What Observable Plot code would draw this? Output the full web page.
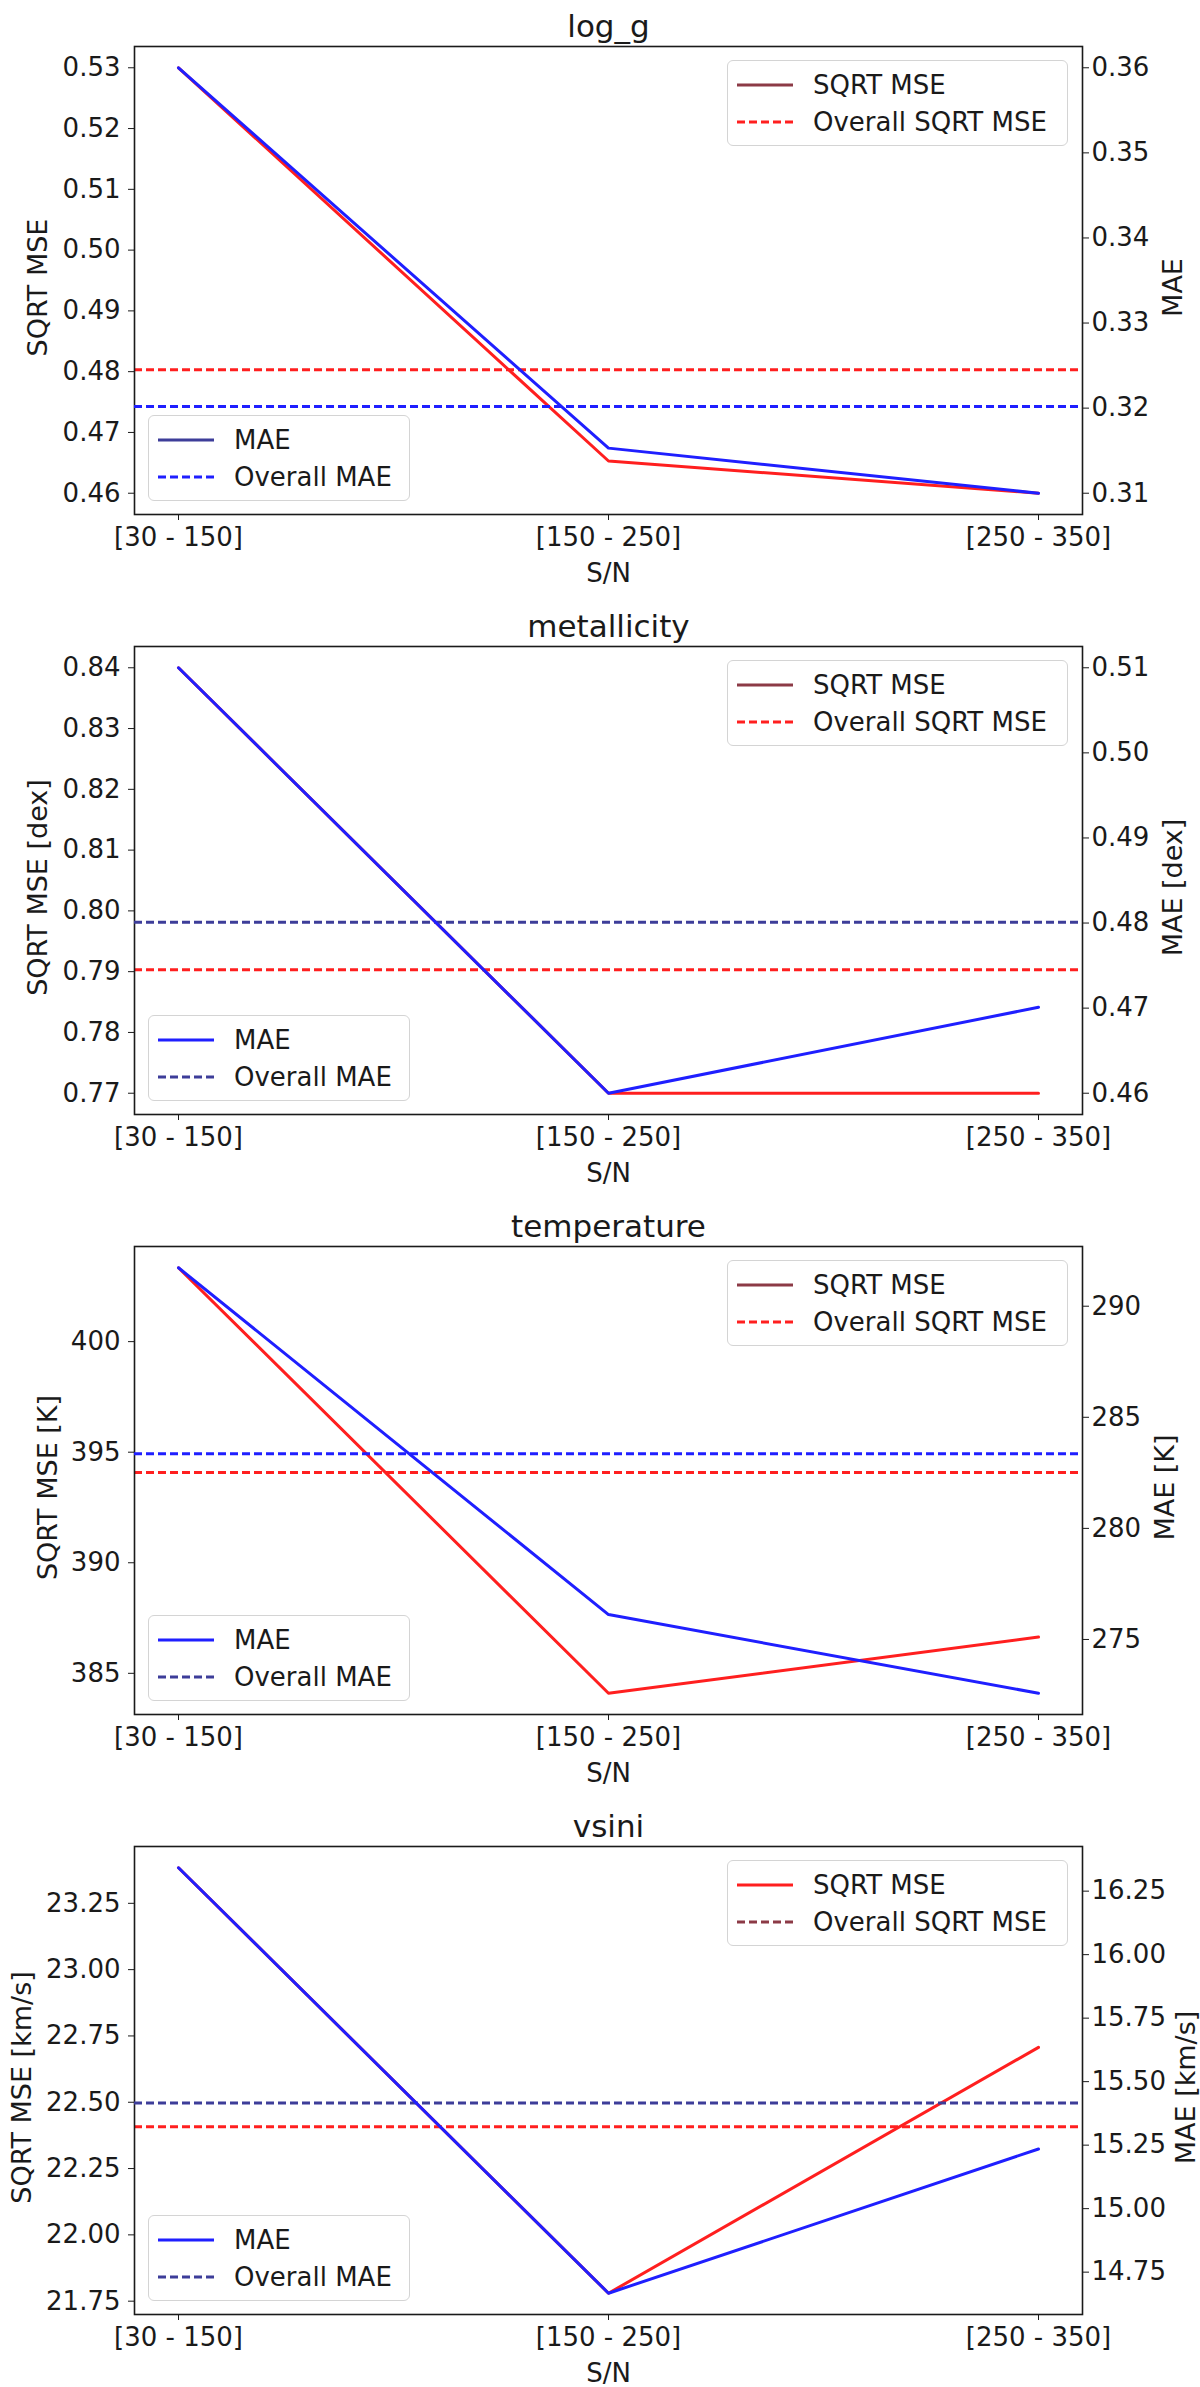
<!DOCTYPE html>
<html>
<head>
<meta charset="utf-8">
<script src="https://cdn.jsdelivr.net/npm/d3@7"></script>
<script src="https://cdn.jsdelivr.net/npm/@observablehq/plot@0.6"></script>
<style>
  html, body { margin: 0; padding: 0; background: white; overflow: hidden; }
  .panel { position: relative; width: 1200px; height: 600px; overflow: hidden; }
  .panel svg { position: absolute; left: 0; top: 0; }
  .legend {
    position: absolute; box-sizing: border-box; height: 86px;
    border: 1px solid #d4d4d4; border-radius: 6px; background: rgba(255,255,255,0.85);
    font-family: "DejaVu Sans", sans-serif; font-size: 26px; color: #1a1a1a; z-index: 5;
  }
  .legend .row { display: flex; align-items: center; height: 37px; }
  .legend .row:first-child { margin-top: 5px; }
  .legend svg { position: static; margin-left: 9px; margin-right: 20px; }
</style>
</head>
<body>
<div id="chart"></div>
<script>
// S/N bins on the x axis
const snBins = ["[30 - 150]", "[150 - 250]", "[250 - 350]"];

// log_g
const loggMse = [0.530, 0.4653, 0.460];
const loggMseOverall = 0.4803;
const loggMae = [0.360, 0.3153, 0.310];
const loggMaeOverall = 0.3202;
const loggMseTicks = [0.46, 0.47, 0.48, 0.49, 0.50, 0.51, 0.52, 0.53];
const loggMaeTicks = [0.31, 0.32, 0.33, 0.34, 0.35, 0.36];

// metallicity
const metMse = [0.840, 0.770, 0.770];
const metMseOverall = 0.7903;
const metMae = [0.510, 0.460, 0.4701];
const metMaeOverall = 0.4801;
const metMseTicks = [0.77, 0.78, 0.79, 0.80, 0.81, 0.82, 0.83, 0.84];
const metMaeTicks = [0.46, 0.47, 0.48, 0.49, 0.50, 0.51];

// temperature
const tempMse = [403.34, 384.10, 386.64];
const tempMseOverall = 394.08;
const tempMae = [291.73, 276.12, 272.58];
const tempMaeOverall = 283.36;
const tempMseTicks = [385, 390, 395, 400];
const tempMaeTicks = [275, 280, 285, 290];

// vsini
const vsiniMse = [23.384, 21.780, 22.707];
const vsiniMseOverall = 22.408;
const vsiniMae = [16.342, 14.667, 15.235];
const vsiniMaeOverall = 15.416;
const vsiniMseTicks = [21.75, 22.00, 22.25, 22.50, 22.75, 23.00, 23.25];
const vsiniMaeTicks = [14.75, 15.00, 15.25, 15.50, 15.75, 16.00, 16.25];

const red = "#ff1f1f", blue = "#1f1fff", darkRed = "#8c3a46", navy = "#3d3d99";

const panels = [
  {name: "log_g", unit: "", mse: loggMse, mseAll: loggMseOverall, mae: loggMae, maeAll: loggMaeOverall,
   mseTicks: loggMseTicks, maeTicks: loggMaeTicks, fmt: ".2f", leftDx: -96, rightDx: 91,
   keys: [darkRed, red, navy, blue], maeAllLine: blue},
  {name: "metallicity", unit: " [dex]", mse: metMse, mseAll: metMseOverall, mae: metMae, maeAll: metMaeOverall,
   mseTicks: metMseTicks, maeTicks: metMaeTicks, fmt: ".2f", leftDx: -96, rightDx: 91,
   keys: [darkRed, red, blue, navy], maeAllLine: navy},
  {name: "temperature", unit: " [K]", mse: tempMse, mseAll: tempMseOverall, mae: tempMae, maeAll: tempMaeOverall,
   mseTicks: tempMseTicks, maeTicks: tempMaeTicks, fmt: "d", leftDx: -86, rightDx: 83,
   keys: [darkRed, red, blue, navy], maeAllLine: blue},
  {name: "vsini", unit: " [km/s]", mse: vsiniMse, mseAll: vsiniMseOverall, mae: vsiniMae, maeAll: vsiniMaeOverall,
   mseTicks: vsiniMseTicks, maeTicks: vsiniMaeTicks, fmt: ".2f", leftDx: -112, rightDx: 104,
   keys: [red, darkRed, blue, navy], maeAllLine: navy}
];

const W = 1200, H = 600, mt = 46, mb = 86, ml = 134, mr = 118;
const dash = "8,4";

function rows(vals) {
  return snBins.map((bin, i) => ({bin, value: vals[i]}));
}
// matplotlib-like 5% margins
function padded(vals, overall) {
  const [lo, hi] = d3.extent([...vals, overall]);
  const pad = (hi - lo) * 0.05;
  return [lo - pad, hi + pad];
}

function legendBox(items, left, top, width) {
  const box = document.createElement("div");
  box.className = "legend";
  box.style.left = left + "px";
  box.style.top = top + "px";
  box.style.width = width + "px";
  for (const it of items) {
    const row = document.createElement("div");
    row.className = "row";
    row.innerHTML = `<svg width="56" height="6"><line x1="0" x2="56" y1="3" y2="3" stroke="${it.color}" stroke-width="3" ${it.dashed ? `stroke-dasharray="${dash}"` : ""}/></svg><span>${it.label}</span>`;
    box.appendChild(row);
  }
  return box;
}

const label = {textAnchor: "middle", lineAnchor: "middle"};
const chart = d3.select("#chart");

panels.forEach((p, k) => {
  const div = chart.append("div").attr("class", "panel");
  if (k === panels.length - 1) div.style("height", "587px");
  const fmt = d3.format(p.fmt);

  const mseSvg = Plot.plot({
    width: W, height: H,
    marginTop: mt, marginBottom: mb, marginLeft: ml, marginRight: mr,
    style: {fontFamily: "DejaVu Sans, sans-serif", fontSize: "26px", background: "white", color: "#1a1a1a", overflow: "visible"},
    x: {type: "point", domain: snBins, padding: 0.1, label: null, tickSize: 6, tickPadding: 7},
    y: {domain: padded(p.mse, p.mseAll), ticks: p.mseTicks, tickFormat: fmt, tickSize: 6, tickPadding: 8, label: null, axis: "left"},
    marks: [
      Plot.ruleY([p.mseAll], {stroke: red, strokeWidth: 3, strokeDasharray: dash}),
      Plot.line(rows(p.mse), {x: "bin", y: "value", stroke: red, strokeWidth: 3}),
      Plot.frame({stroke: "#1a1a1a", strokeWidth: 1.6}),
      Plot.text([p.name], {frameAnchor: "top", dy: -19, fontSize: 31, ...label}),
      Plot.text(["S/N"], {frameAnchor: "bottom", dy: 59, ...label}),
      Plot.text(["SQRT MSE" + p.unit], {frameAnchor: "left", dx: p.leftDx, dy: 7, rotate: -90, fontSize: 27, ...label})
    ]
  });

  const maeSvg = Plot.plot({
    width: W, height: H,
    marginTop: mt, marginBottom: mb, marginLeft: ml, marginRight: mr,
    style: {fontFamily: "DejaVu Sans, sans-serif", fontSize: "26px", background: "transparent", color: "#1a1a1a", overflow: "visible"},
    x: {type: "point", domain: snBins, padding: 0.1, axis: null},
    y: {domain: padded(p.mae, p.maeAll), ticks: p.maeTicks, tickFormat: fmt, tickSize: 6, tickPadding: 3, label: null, axis: "right"},
    marks: [
      Plot.ruleY([p.maeAll], {stroke: p.maeAllLine, strokeWidth: 3, strokeDasharray: dash}),
      Plot.line(rows(p.mae), {x: "bin", y: "value", stroke: blue, strokeWidth: 3}),
      Plot.text(["MAE" + p.unit], {frameAnchor: "right", dx: p.rightDx, dy: 7, rotate: -90, fontSize: 27, ...label})
    ]
  });

  div.append(() => mseSvg);
  div.append(() => maeSvg);

  const node = div.node();
  node.appendChild(legendBox([
    {label: "SQRT MSE", color: p.keys[0], dashed: false},
    {label: "Overall SQRT MSE", color: p.keys[1], dashed: true}
  ], 727, mt + 14, 341));
  node.appendChild(legendBox([
    {label: "MAE", color: p.keys[2], dashed: false},
    {label: "Overall MAE", color: p.keys[3], dashed: true}
  ], 148, H - mb - 99, 262));
});
</script>
</body>
</html>
